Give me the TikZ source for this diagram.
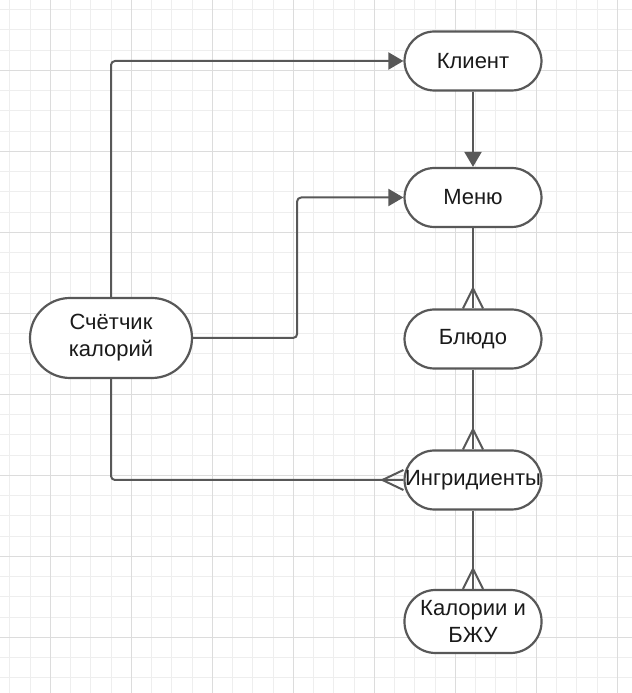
\documentclass[tikz,border=0pt]{standalone}
\usepackage{fontspec}
\setmainfont{Liberation Sans}
\usetikzlibrary{arrows.meta,calc}

\definecolor{linecol}{RGB}{88,88,88}
\definecolor{textcol}{RGB}{26,26,26}
\definecolor{gridlight}{RGB}{238,238,238}
\definecolor{griddark}{RGB}{220,220,220}

\begin{document}
\begin{tikzpicture}[>={Triangle[length=15bp,width=17bp]},line join=round,
  entity/.style={draw=linecol,line width=2.2bp,fill=white,rounded corners=30bp,
    minimum width=137bp,minimum height=59bp,inner sep=0bp,align=center,
    text=textcol,font=\fontsize{22bp}{27bp}\selectfont},
  link/.style={draw=linecol,line width=2bp,rounded corners=4bp},
  crow/.style={draw=linecol,line width=2bp,line join=miter},
  gridminor/.style={draw=gridlight,line width=1bp},
  gridmajor/.style={draw=griddark,line width=1bp}]

\useasboundingbox (0bp,0bp) rectangle (632bp,693bp);
\fill[white] (0bp,0bp) rectangle (632bp,693bp);

% Background grid
\begin{scope}
  \clip (0bp,0bp) rectangle (632bp,693bp);
  \foreach \i in {0,...,30}
    \draw[gridminor] ({9.8bp+\i*20.25bp},0bp) -- ++(0bp,693bp);
  \foreach \i in {0,...,34}
    \draw[gridminor] (0bp,{683.45bp-\i*20.25bp}) -- ++(632bp,0bp);
  \foreach \i in {0,...,7}
    \draw[gridmajor] ({50.3bp+\i*81bp},0bp) -- ++(0bp,693bp);
  \foreach \i in {0,...,8}
    \draw[gridmajor] (0bp,{622.7bp-\i*81bp}) -- ++(632bp,0bp);
\end{scope}

% Nodes
\node[entity] (Klient) at (473bp,632bp) {Клиент};
\node[entity] (Menu) at (473bp,495.5bp) {Меню};
\node[entity] (Bljudo) at (473bp,354bp) {Блюдо};
\node[entity] (Ingr) at (473bp,213bp) {Ингридиенты};
\node[entity,minimum height=63bp,rounded corners=31bp] (Kalorii) at (473bp,71.5bp) {Калории и\\БЖУ};
\node[entity,minimum width=162bp,minimum height=80bp,rounded corners=40bp] (Schetchik) at (111bp,355bp) {Счётчик\\калорий};

% Edge: Schetchik -> Klient
\draw[link,->] (Schetchik.north) |- (Klient.west);

% Edge: Klient -> Menu
\draw[link,->] (Klient.south) -- (Menu.north);

% Edge: Schetchik -> Menu
\draw[link,->] (Schetchik.east) -- ++(104bp,0bp) |- (Menu.west);

% Edge: Menu -> Bljudo (many)
\draw[link] (Menu.south) -- (Bljudo.north);
\draw[crow] ($(Bljudo.north)+(-10bp,0bp)$) -- ++(10bp,20bp) -- ++(10bp,-20bp);

% Edge: Bljudo -> Ingr (many)
\draw[link] (Bljudo.south) -- (Ingr.north);
\draw[crow] ($(Ingr.north)+(-10bp,0bp)$) -- ++(10bp,20bp) -- ++(10bp,-20bp);

% Edge: Ingr -> Kalorii (many)
\draw[link] (Ingr.south) -- (Kalorii.north);
\draw[crow] ($(Kalorii.north)+(-10bp,0bp)$) -- ++(10bp,20bp) -- ++(10bp,-20bp);

% Edge: Schetchik -> Ingr (many)
\draw[link] (Schetchik.south) |- (Ingr.west);
\draw[crow] ($(Ingr.west)+(0bp,10bp)$) -- ++(-21bp,-10bp) -- ++(21bp,-10bp);

\end{tikzpicture}
\end{document}
